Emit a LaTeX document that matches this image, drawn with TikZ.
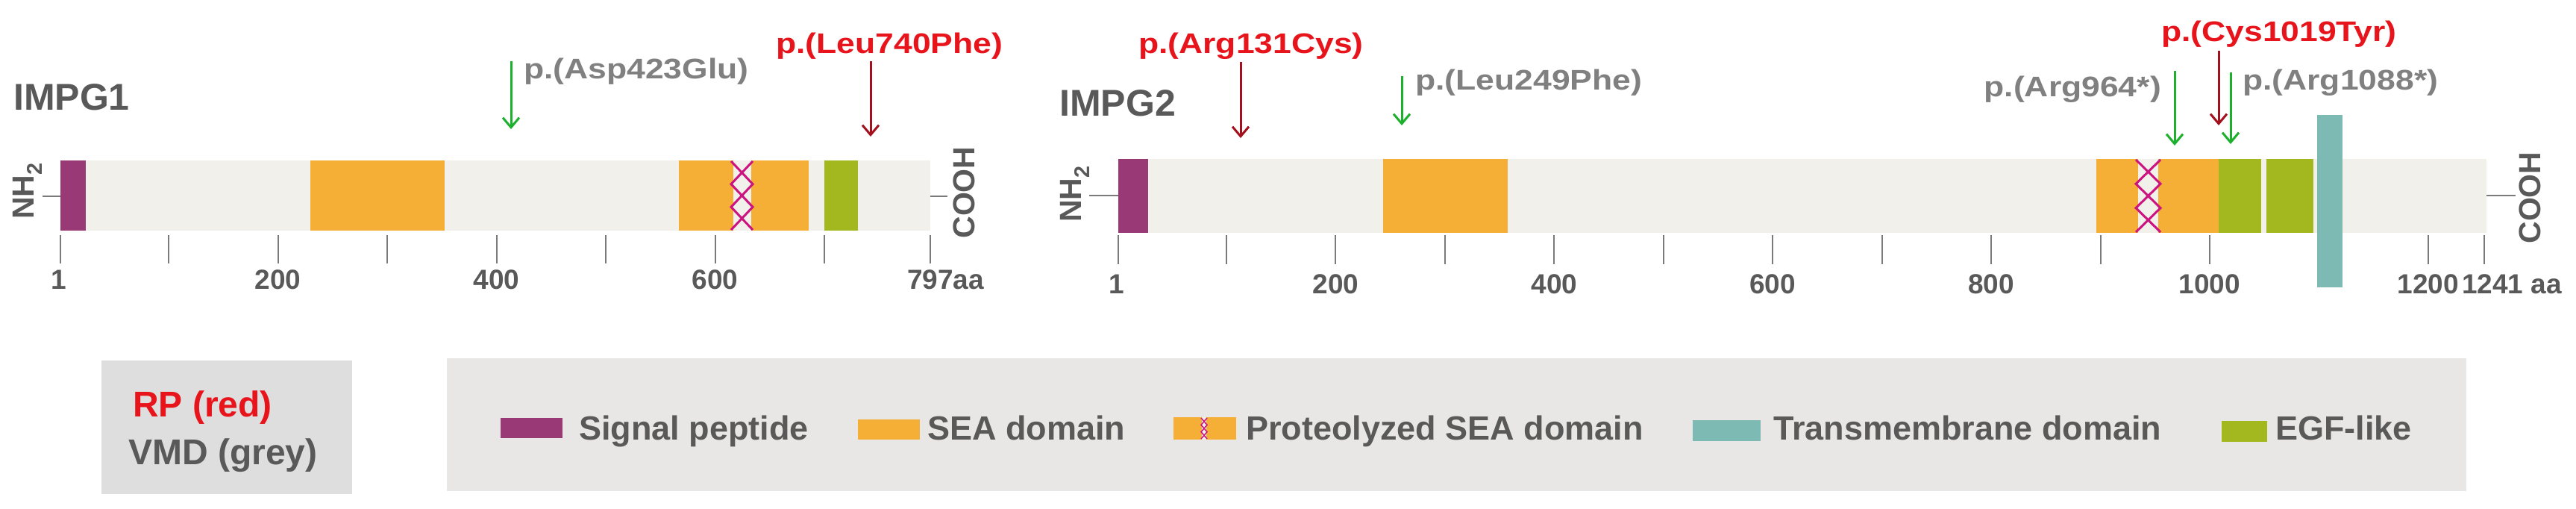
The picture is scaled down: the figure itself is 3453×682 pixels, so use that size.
\documentclass[tikz,border=0pt]{standalone}
\usepackage{fontspec}
\setmainfont{Liberation Sans}
\newfontfamily\mutfont{Liberation Sans}[FakeStretch=1.17]
\usetikzlibrary{arrows.meta}

\definecolor{barbg}{HTML}{F2F0EB}
\definecolor{sigcol}{HTML}{993A76}
\definecolor{seacol}{HTML}{F5AF36}
\definecolor{egfcol}{HTML}{A3B81F}
\definecolor{tmcol}{HTML}{7DBAB4}
\definecolor{cutcol}{HTML}{CC1480}
\definecolor{keybg}{HTML}{DEDEDE}
\definecolor{legbg}{HTML}{E8E7E5}
\definecolor{txtdark}{HTML}{595959}
\definecolor{txtgrey}{HTML}{808080}
\definecolor{rptxt}{HTML}{E8141C}
\definecolor{rparr}{HTML}{A3101E}
\definecolor{vmdarr}{HTML}{1DB02C}
\definecolor{ticcol}{HTML}{7A7A7A}

\tikzset{
  gene/.style={inner sep=0pt, text=txtdark, font=\fontsize{50}{60}\selectfont\bfseries},
  axlab/.style={inner sep=0pt, text=txtdark, font=\fontsize{37}{44}\selectfont\bfseries},
  endlab/.style={inner sep=0pt, text=txtdark, rotate=90, font=\fontsize{41}{48}\selectfont\bfseries},
  mutred/.style={inner sep=0pt, text=rptxt, font=\mutfont\fontsize{38}{46}\selectfont\bfseries},
  mutgrey/.style={inner sep=0pt, text=txtgrey, font=\mutfont\fontsize{38}{46}\selectfont\bfseries},
  keytxt/.style={inner sep=0pt, text=txtdark, font=\fontsize{45}{54}\selectfont\bfseries},
  ticklin/.style={draw=ticcol, line width=2pt},
  rpline/.style={draw=rparr, line width=3pt, -{Straight Barb[length=13pt,width=22pt]}},
  vmdline/.style={draw=vmdarr, line width=3pt, -{Straight Barb[length=13pt,width=22pt]}}
}

% proteolysis site: chain of crosses between x=#1..#2, y=#3..#4
\newcommand{\cutmark}[5]{%
  \draw[cutcol, line width=#5] (#1,#3) -- (#2,{#3+(#4-#3)/3}) -- (#1,{#3+2*(#4-#3)/3}) -- (#2,#4);
  \draw[cutcol, line width=#5] (#2,#3) -- (#1,{#3+(#4-#3)/3}) -- (#2,{#3+2*(#4-#3)/3}) -- (#1,#4);
}

\begin{document}
\begin{tikzpicture}[x=1pt,y=-1pt]
\useasboundingbox[fill=white] (0,0) rectangle (3453,682);

% IMPG1
\node[gene, anchor=base west] (impg1) at (18,147) {IMPG1};
\fill[barbg] (81,215) rectangle (1247,309);
\fill[sigcol] (81,215) rectangle (115,309);
\fill[seacol] (416,215) rectangle (596,309);
\fill[seacol] (910,215) rectangle (1084,309);
\fill[barbg] (983,215) rectangle (1007,309);
\cutmark{980}{1009}{216}{308}{3pt}
\fill[egfcol] (1105,215) rectangle (1150,309);
\node[endlab, anchor=base] (nh1) at (45,256) {NH\textsubscript{2}};
\node[endlab, anchor=base] (cooh1) at (1306,258) {COOH};
\draw[ticklin] (57,263) -- (81,263);
\draw[ticklin] (1247,263) -- (1270,263);
\foreach \a in {1,100,200,300,400,500,600,700}
  \draw[ticklin] ({81+(\a-1)*1.465},315) -- ({81+(\a-1)*1.465},353);
\draw[ticklin] (1247,315) -- (1247,353);
\node[axlab, anchor=base] (t1-1) at (79,387) {1};
\foreach \a in {200,400,600}
  \node[axlab, anchor=base] (t1-\a) at ({81+(\a-1)*1.465},387) {\a};
\node[axlab, anchor=base west] (t1-end) at (1216,387) {797aa};

\coordinate (a423) at (685,82);
\coordinate (b423) at (685,173);
\draw[vmdline] (a423) -- (b423);
\node[mutgrey, anchor=base west] (m423) at (702,106) {p.(Asp423Glu)};
\coordinate (a740) at (1167,82);
\coordinate (b740) at (1167,183);
\draw[rpline] (a740) -- (b740);
\node[mutred, anchor=base west] (m740) at (1040,72) {p.(Leu740Phe)};

% IMPG2
\node[gene, anchor=base west] (impg2) at (1420,155) {IMPG2};
\fill[barbg] (1499,213) rectangle (3333,312);
\fill[sigcol] (1499,213) rectangle (1539,312);
\fill[seacol] (1854,213) rectangle (2021,312);
\fill[seacol] (2810,213) rectangle (2974,312);
\fill[barbg] (2866,213) rectangle (2893,312);
\cutmark{2863}{2896}{214}{311}{3pt}
\fill[egfcol] (2974,213) rectangle (3031,312);
\fill[egfcol] (3038,213) rectangle (3101,312);
\node[endlab, anchor=base] (nh2) at (1449,260) {NH\textsubscript{2}};
\node[endlab, anchor=base] (cooh2) at (3405,265) {COOH};
\draw[ticklin] (1460,262) -- (1499,262);
\draw[ticklin] (3333,262) -- (3372,262);
\draw[ticklin] (1499,315) -- (1499,354);
\foreach \a in {100,200,...,1200}
  \draw[ticklin] ({1499+(\a-1)*1.4644},315) -- ({1499+(\a-1)*1.4644},354);
\draw[ticklin] (3330,315) -- (3330,354);
\fill[tmcol] (3106,154) rectangle (3140,385);
\node[axlab, anchor=base] (t2-1) at (1497,393) {1};
\foreach \a in {200,400,...,1200}
  \node[axlab, anchor=base] (t2-\a) at ({1499+(\a-1)*1.4644},393) {\a};
\node[axlab, anchor=base west] (t2-end) at (3300,393) {1241 aa};

\coordinate (a131) at (1663,83);
\coordinate (b131) at (1663,185);
\draw[rpline] (a131) -- (b131);
\node[mutred, anchor=base west] (m131) at (1526,72) {p.(Arg131Cys)};
\coordinate (a249) at (1879,102);
\coordinate (b249) at (1879,168);
\draw[vmdline] (a249) -- (b249);
\node[mutgrey, anchor=base west] (m249) at (1897,121) {p.(Leu249Phe)};
\coordinate (a964) at (2915,95);
\coordinate (b964) at (2915,195);
\draw[vmdline] (a964) -- (b964);
\node[mutgrey, anchor=base east] (m964) at (2897,130) {p.(Arg964*)};
\coordinate (a1019) at (2974,68);
\coordinate (b1019) at (2974,168);
\draw[rpline] (a1019) -- (b1019);
\node[mutred, anchor=base west] (m1019) at (2897,56) {p.(Cys1019Tyr)};
\coordinate (a1088) at (2990,97);
\coordinate (b1088) at (2990,193);
\draw[vmdline] (a1088) -- (b1088);
\node[mutgrey, anchor=base west] (m1088) at (3006,121) {p.(Arg1088*)};

% phenotype key
\fill[keybg] (136,483) rectangle (472,662);
\node[keytxt, text=rptxt, font=\fontsize{48}{56}\selectfont\bfseries, anchor=base west] (rp) at (178,558) {RP (red)};
\node[keytxt, font=\fontsize{48}{56}\selectfont\bfseries, anchor=base west] (vmd) at (172,622) {VMD (grey)};

% domain legend
\fill[legbg] (599,480) rectangle (3306,658);
\fill[sigcol] (671,560) rectangle (754,587);
\node[keytxt, anchor=base west] (ksig) at (776,589) {Signal peptide};
\fill[seacol] (1150,562) rectangle (1233,589);
\node[keytxt, anchor=base west] (ksea) at (1243,589) {SEA domain};
\fill[seacol] (1573,559) rectangle (1657,589);
\fill[barbg] (1611,559) rectangle (1617,589);
\cutmark{1610}{1618}{560}{588}{1.5pt}
\node[keytxt, anchor=base west] (kpro) at (1670,589) {Proteolyzed SEA domain};
\fill[tmcol] (2269,563) rectangle (2360,591);
\node[keytxt, anchor=base west] (ktm) at (2377,589) {Transmembrane domain};
\fill[egfcol] (2978,564) rectangle (3039,592);
\node[keytxt, anchor=base west] (kegf) at (3050,589) {EGF-like};
\end{tikzpicture}
\end{document}
